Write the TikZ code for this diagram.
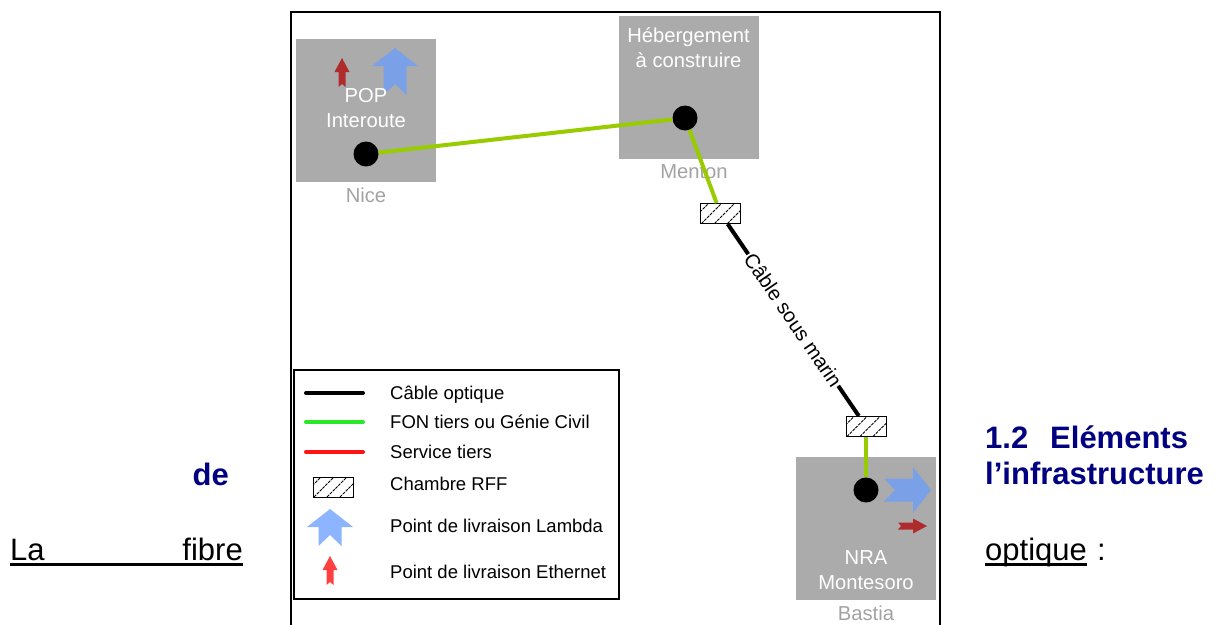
\documentclass[tikz,border=0pt]{standalone}
\usepackage{fontspec}
\setmainfont{Liberation Sans}
\usetikzlibrary{calc}
\definecolor{boxgray}{RGB}{171,171,171}
\definecolor{citygray}{RGB}{162,162,162}
\definecolor{fongreen}{RGB}{153,204,0}
\definecolor{lgreen}{RGB}{40,232,40}
\definecolor{lred}{RGB}{255,20,20}
\definecolor{mapblue}{RGB}{122,160,232}
\definecolor{mapred}{RGB}{176,44,44}
\definecolor{legblue}{RGB}{140,180,255}
\definecolor{legred}{RGB}{255,64,64}
\definecolor{headnavy}{RGB}{0,0,128}
\newcommand\lblfs{\fontsize{18.5}{22}\selectfont}
\newcommand\mapfs{\fontsize{20.2}{24}\selectfont}
\newcommand\bodyfs{\fontsize{31}{36}\selectfont}
\begin{document}
\begin{tikzpicture}[x=1pt,y=-1pt,
  site/.style={fill=boxgray, draw=none, inner sep=0, minimum width=140, minimum height=143},
  inbox/.style={inner sep=0, anchor=base, text=white, font=\mapfs},
  city/.style={inner sep=0, anchor=base, text=citygray, font=\mapfs},
  legtext/.style={inner sep=0, anchor=base west, font=\lblfs},
  dot/.style={circle, fill=black, inner sep=0, minimum size=25},
  chamber/.style={draw=black, line width=1pt, fill=white, inner sep=0,
    minimum width=40, minimum height=20,
    path picture={
      \foreach \s in {-12,1,14,27,40}
        \draw[line width=0.8pt, dash pattern=on 3pt off 1pt]
          ($(path picture bounding box.south west)+(\s,0)$) -- ++(22,-22);
    }},
  fon/.style={draw=fongreen, line width=4pt},
  cable/.style={draw=black, line width=4pt},
  heading/.style={inner sep=0, anchor=base west, text=headnavy, font=\bodyfs\bfseries},
  body/.style={inner sep=0, anchor=base west, font=\bodyfs},
  lambda/.pic={
    \path[pic actions] (0,0) -- (23,18) -- (11.5,18) -- (11.5,#1) -- (0,#1-11)
      -- (-11.5,#1) -- (-11.5,18) -- (-23,18) -- cycle;
  },
  ether/.pic={
    \path[pic actions] (0,0) -- (7.5,14) -- (3.5,14) -- (3.5,29) -- (0,26)
      -- (-3.5,29) -- (-3.5,14) -- (-7.5,14) -- cycle;
  }
]
\useasboundingbox (0,0) rectangle (1217,624);

% outer frame (open at the bottom)
\draw[line width=1.4pt] (291,626) -- (291,12) -- (940,12) -- (940,626);

% sites
\node[site] (boxNice) at (366,110.5) {};
\node[site] (boxMenton) at (688.5,87) {};
\node[site] (boxBastia) at (866,528.5) {};

% delivery points
\pic[fill=mapred] (ethNice) at (342,58) {ether};
\pic[fill=mapblue] (lamNice) at (395,48) {lambda=47};
\pic[fill=mapblue, rotate=-90] (lamBastia) at (931,490) {lambda=47};
\pic[fill=mapred, rotate=-90] (ethBastia) at (927,526) {ether};

% site names
\node[inbox] (tPop) at (366,102) {POP};
\node[inbox] (tInter) at (366,127) {Interoute};
\node[inbox] (tHeb) at (688.5,42) {Hébergement};
\node[inbox] (tCons) at (688.5,67) {à construire};
\node[inbox] (tNra) at (866,564) {NRA};
\node[inbox] (tMont) at (866,589) {Montesoro};

\node[city] (cNice) at (366,202) {Nice};
\node[city] (cMenton) at (694,178) {Menton};
\node[city] (cBastia) at (866,620) {Bastia};

% nodes of the route
\node[dot] (nice) at (366,154) {};
\node[dot] (menton) at (685,118) {};
\node[dot] (bastia) at (866,490) {};
\node[chamber] (rff1) at (720.5,213.5) {};
\node[chamber] (rff2) at (866,426.5) {};

% links
\draw[fon] (nice) -- (menton);
\draw[fon] (menton) -- (rff1);
\draw[cable] (rff1) -- node[sloped, fill=white, inner sep=1pt, font=\mapfs] (lblCable) {Câble sous marin} (rff2);
\draw[fon] (rff2) -- (bastia);

% legend
\node[draw=black, line width=1.8pt, inner sep=0, minimum width=325, minimum height=229] (legend) at (456.5,484.5) {};
\coordinate (kA1) at (306,393); \coordinate (kA2) at (363,393);
\coordinate (kB1) at (306,422); \coordinate (kB2) at (363,422);
\coordinate (kC1) at (306,452); \coordinate (kC2) at (363,452);
\draw[line width=4pt, line cap=round, black] (kA1) -- (kA2);
\draw[line width=4pt, line cap=round, lgreen] (kB1) -- (kB2);
\draw[line width=4pt, line cap=round, lred] (kC1) -- (kC2);
\node[chamber] (kRff) at (333,487) {};
\pic[fill=legblue] (kLam) at (330,509) {lambda=37};
\pic[fill=legred] (kEth) at (330,556) {ether};
\node[legtext] (lA) at (390,399) {Câble optique};
\node[legtext] (lB) at (390,428) {FON tiers ou Génie Civil};
\node[legtext] (lC) at (390,458) {Service tiers};
\node[legtext] (lD) at (390,490) {Chambre RFF};
\node[legtext] (lE) at (390,532) {Point de livraison Lambda};
\node[legtext] (lF) at (390,578) {Point de livraison Ethernet};

% surrounding text
\node[heading] (hNum) at (985,448) {1.2};
\node[heading] (hElem) at (1050,448) {Eléments};
\node[heading] (hInfra) at (985,484) {l’infrastructure};
\node[heading, anchor=base east] (hDe) at (229,485) {de};
\node[body] (wLa) at (10,560) {La};
\node[body, anchor=base east] (wFibre) at (243,560) {fibre};
\node[body] (wOpt) at (985,560) {optique};
\node[body] (wColon) at (1097,560) {:};
\draw[line width=2.3pt] ($(wLa.base west)+(0,4.5)$) -- ($(wFibre.base east)+(0,4.5)$);
\draw[line width=2.3pt] ($(wOpt.base west)+(0,4.5)$) -- ($(wOpt.base east)+(0,4.5)$);
\end{tikzpicture}
\end{document}
